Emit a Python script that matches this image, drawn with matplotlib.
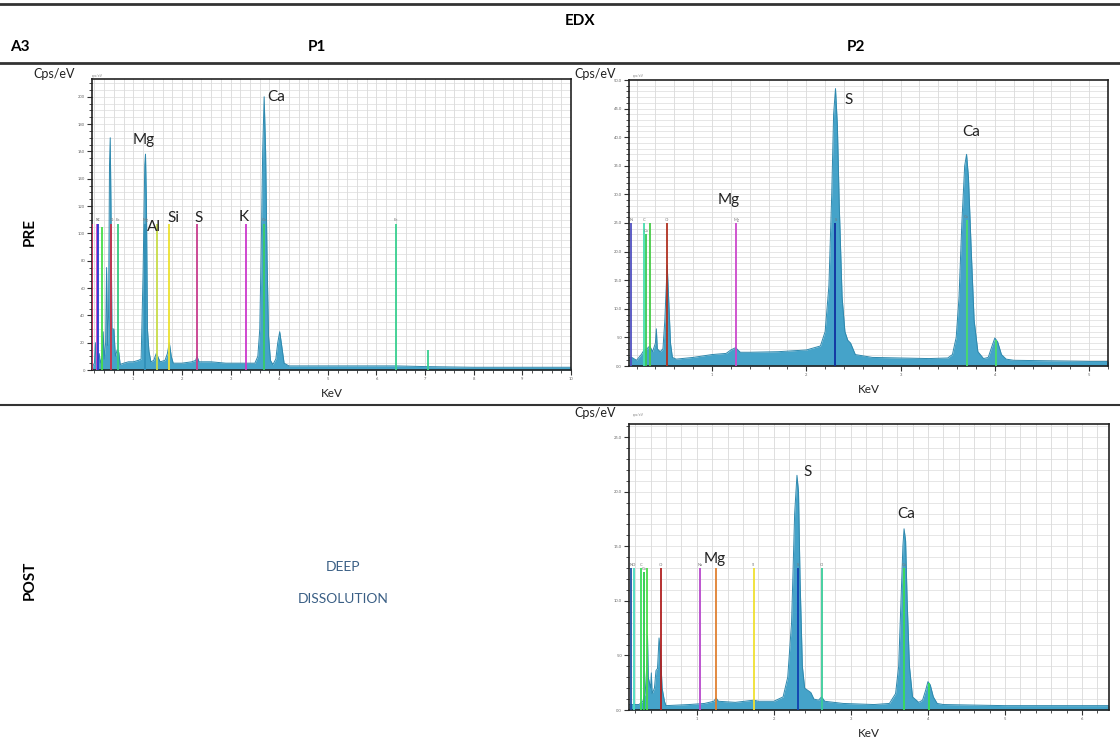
import numpy as np
import matplotlib
matplotlib.use('Agg')
import matplotlib.pyplot as plt
from matplotlib.lines import Line2D
from matplotlib.ticker import MultipleLocator, FormatStrFormatter

plt.rcParams['font.family'] = ['Lato', 'DejaVu Sans']

# ---------------- data ----------------
# P1 / PRE spectrum (keV, cps/eV)
p1_kev = [0.15, 0.17, 0.20, 0.22, 0.24, 0.27, 0.30, 0.32, 0.36, 0.38, 0.40, 0.43, 0.45, 0.47,
          0.49, 0.51, 0.525, 0.54, 0.56, 0.60, 0.63, 0.67, 0.70, 0.73, 0.80, 0.90, 1.00, 1.10,
          1.16, 1.20, 1.235, 1.25, 1.27, 1.29, 1.32, 1.36, 1.42, 1.47, 1.50, 1.55, 1.65, 1.70,
          1.74, 1.78, 1.82, 2.0, 2.2, 2.28, 2.31, 2.35, 2.6, 2.9, 3.2, 3.4, 3.5, 3.56, 3.60,
          3.63, 3.66, 3.69, 3.72, 3.75, 3.78, 3.82, 3.87, 3.93, 3.97, 4.01, 4.05, 4.10, 4.2,
          5.0, 6.0, 6.4, 7.0, 8.0, 9.0, 10.0]
p1_cps = [0, 3, 5, 20, 4, 6, 12, 5, 10, 28, 8, 20, 75, 18,
          40, 150, 170, 120, 30, 30, 10, 15, 13, 4, 5, 6, 6, 7,
          8, 70, 150, 158, 120, 30, 14, 6, 7, 12, 10, 6, 7, 12,
          20, 10, 5, 5, 6, 7, 10, 6, 6, 5, 5, 5, 5, 10, 30,
          90, 160, 200, 160, 80, 25, 7, 4, 8, 20, 28, 18, 5, 3,
          3, 3, 3, 2.5, 2, 2, 2]
p1_line_kev = [0.15, 0.26, 0.28, 0.35, 0.55, 0.69, 1.25, 1.49, 1.74, 2.31, 3.31, 3.69, 6.40, 7.06]
p1_line_top = [107, 107, 107, 105, 107, 107, 107, 107, 107, 107, 107, 107, 107, 15]
p1_line_tag = ['', 'N', 'C', '', 'O', 'Fe', 'Mg', '', '', '', '', 'Ca', 'Fe', '']
p1_names = ['Ca', 'Mg', 'Al', 'Si', 'S', 'K']
p1_name_kev = [3.76, 0.98, 1.29, 1.70, 2.26, 3.16]
p1_name_cps = [200, 168, 105, 111, 111, 112]

# P2 / PRE spectrum
p2_kev = [0.12, 0.15, 0.20, 0.25, 0.28, 0.31, 0.34, 0.37, 0.40, 0.41, 0.42, 0.45, 0.48, 0.50,
          0.51, 0.525, 0.54, 0.56, 0.58, 0.62, 0.80, 1.0, 1.15, 1.20, 1.25, 1.30, 1.40, 1.70,
          2.0, 2.15, 2.20, 2.24, 2.27, 2.29, 2.31, 2.33, 2.35, 2.38, 2.41, 2.44, 2.47, 2.52,
          2.7, 3.0, 3.3, 3.5, 3.55, 3.59, 3.62, 3.65, 3.68, 3.70, 3.72, 3.75, 3.78, 3.82,
          3.88, 3.93, 3.97, 4.0, 4.03, 4.07, 4.12, 4.2, 5.0, 5.25]
p2_cps = [1.5, 1.5, 1, 2, 2.8, 3, 3.5, 2.5, 4, 6.5, 3, 2.5, 3, 8,
          12, 17.6, 12, 4, 1.5, 1.2, 1.5, 2, 2.2, 2.8, 3.2, 2.4, 2.4, 2.5,
          2.8, 3.5, 6, 14, 30, 44, 48.5, 42, 28, 12, 6, 4.5, 4, 2,
          1.5, 1.4, 1.3, 1.4, 2, 5, 12, 25, 35, 37, 33, 20, 8, 2.5,
          1.3, 1.5, 3.5, 4.9, 4.2, 2, 1.2, 1, 0.8, 0.8]
p2_line_kev = [0.145, 0.28, 0.30, 0.34, 0.52, 1.26, 2.31, 3.70, 4.01]
p2_line_top = [25, 25, 23, 25, 25, 25, 25, 25.5, 4.5]
p2_line_tag = ['N', 'C', 'Ca', '', 'O', 'Mg', 'S', 'Ca', '']
p2_names = ['S', 'Ca', 'Mg']
p2_name_kev = [2.41, 3.65, 1.06]
p2_name_cps = [46.5, 40.9, 29]

# P2 / POST spectrum
p3_kev = [0.12, 0.18, 0.25, 0.30, 0.33, 0.35, 0.36, 0.37, 0.40, 0.41, 0.42, 0.45, 0.47, 0.49,
          0.51, 0.53, 0.55, 0.58, 0.60, 0.9, 1.1, 1.22, 1.25, 1.28, 1.5, 1.74, 1.8, 2.0,
          2.12, 2.18, 2.23, 2.27, 2.30, 2.32, 2.34, 2.37, 2.40, 2.44, 2.48, 2.52, 2.58, 2.62,
          2.66, 2.9, 3.3, 3.5, 3.58, 3.62, 3.65, 3.675, 3.69, 3.71, 3.73, 3.76, 3.80, 3.88,
          3.93, 3.97, 4.0, 4.03, 4.07, 4.12, 4.2, 5.0, 6.35]
p3_cps = [0.5, 0.5, 0.5, 0.8, 1.5, 4, 6.8, 3, 2, 3.4, 1.5, 2, 3.6, 3.8,
          6.6, 5, 2, 0.8, 0.4, 0.5, 0.6, 0.8, 1.1, 0.8, 0.7, 0.9, 0.8, 0.8,
          1.2, 3, 8, 18, 21.5, 20, 12, 4, 2, 1.8, 1.6, 1, 0.9, 1.2,
          0.8, 0.6, 0.5, 0.6, 1.5, 4, 10, 15, 16.6, 15.5, 10, 4, 1.2, 0.7,
          0.9, 1.8, 2.6, 2.3, 1.2, 0.6, 0.5, 0.4, 0.4]
p3_line_kev = [0.15, 0.18, 0.28, 0.31, 0.35, 0.53, 1.04, 1.25, 1.74, 2.31, 2.62, 3.69, 4.01]
p3_line_top = [13, 13, 13, 12.6, 13, 13, 13, 13, 13, 13, 13, 13, 2.5]
p3_line_tag = ['N', 'O', 'C', 'Ca', '', 'O', 'Na', '', 'Si', 'S', 'Cl', 'Ca', '']
p3_names = ['S', 'Ca', 'Mg']
p3_name_kev = [2.38, 3.60, 1.09]
p3_name_cps = [21.8, 18.0, 13.8]

# marker line colours
p1_line_col = ['#c8305a', '#d048c8', '#2838d0', '#48dd48', '#c83048', '#38cc80', '#3090b8',
               '#c8dc48', '#ece030', '#c83c8c', '#cc38cc', '#38cc68', '#38d090', '#38d090']
p2_line_col = ['#5050c0', '#48ddb0', '#38cc58', '#48cc48', '#b03020', '#cc48cc', '#1030a0',
               '#48dd68', '#48dd68']
p3_line_col = ['#2050a0', '#48ddc0', '#38dd58', '#28cc48', '#48dd48', '#b02020', '#b848cc',
               '#e08030', '#f0e030', '#1040b0', '#38cc98', '#38dd58', '#38dd58']

FILL = '#45a3c9'
EDGE = '#2e88ad'


def spectrum(rect, kev, cps, lk, lt, lc, ltag, names, nk, nc, xlim, ylim, ymaj, ymin, ygrid, yfmt):
    ax = fig.add_axes(rect)
    ax.set_xlim(*xlim)
    ax.set_ylim(*ylim)
    # fine grid
    ax.xaxis.set_minor_locator(MultipleLocator(0.2))
    ax.xaxis.set_major_locator(MultipleLocator(1))
    ax.yaxis.set_major_locator(MultipleLocator(ymaj))
    ax.yaxis.set_minor_locator(MultipleLocator(ymin))
    for g in np.arange(0, xlim[1] + 0.01, 0.2):
        ax.axvline(g, color='#d9d9d9', lw=0.6, zorder=0)
    for g in np.arange(0, ylim[1], ygrid):
        ax.axhline(g, color='#dcdcdc', lw=0.5, zorder=0)
    ax.fill_between(kev, cps, color=FILL, lw=0, zorder=2)
    ax.plot(kev, cps, color=EDGE, lw=0.7, zorder=2)
    for k, t, c, tag in zip(lk, lt, lc, ltag):
        ax.vlines(k, 0, t, color=c, lw=1.3, zorder=3)
        if tag:
            ax.text(k, t * 1.01, tag, fontsize=3, color='#777777', ha='center', va='bottom', zorder=4)
    for n, k, c in zip(names, nk, nc):
        ax.text(k, c, n, fontsize=11, ha='left', va='center', color='#222222', zorder=5)
    ax.yaxis.set_major_formatter(FormatStrFormatter(yfmt))
    ax.tick_params(which='both', direction='out', labelsize=3, color='#333333', labelcolor='#666666')
    ax.tick_params(which='major', length=3.5, width=0.8, pad=1.5)
    ax.tick_params(which='minor', length=2, width=0.6)
    for s in ax.spines.values():
        s.set_color('#222222')
        s.set_linewidth(1.2)
    ax.set_xlabel('KeV', fontsize=8.5, labelpad=5, color='#222222')
    return ax


fig = plt.figure(figsize=(11.2, 7.4), dpi=100)
W, H = 1120.0, 740.0


def box(l, t, r, b):
    return [l / W, 1 - b / H, (r - l) / W, (b - t) / H]


spectrum(box(92, 79, 571, 370), p1_kev, p1_cps, p1_line_kev, p1_line_top, p1_line_col, p1_line_tag,
         p1_names, p1_name_kev, p1_name_cps, (0.15, 10), (0, 213), 20, 5, 5, '%d')
spectrum(box(629, 80, 1108, 366), p2_kev, p2_cps, p2_line_kev, p2_line_top, p2_line_col, p2_line_tag,
         p2_names, p2_name_kev, p2_name_cps, (0.12, 5.2), (0, 50), 5, 1, 1, '%.1f')
spectrum(box(629, 424, 1109, 710), p3_kev, p3_cps, p3_line_kev, p3_line_top, p3_line_col, p3_line_tag,
         p3_names, p3_name_kev, p3_name_cps, (0.12, 6.35), (0, 26.2), 5, 1, 1, '%.1f')

# table rules
for y, lw in [(4, 2.0), (63, 2.0), (405, 1.5)]:
    fig.add_artist(Line2D([0, 1], [1 - y / H, 1 - y / H], color='#333333', lw=lw))

# header and row labels
fig.text(580 / W, 1 - 21 / H, 'EDX', fontsize=11, fontweight='bold', ha='center', va='center')
fig.text(10 / W, 1 - 47 / H, 'A3', fontsize=11, fontweight='bold', ha='left', va='center')
fig.text(317 / W, 1 - 47 / H, 'P1', fontsize=11, fontweight='bold', ha='center', va='center')
fig.text(856 / W, 1 - 47 / H, 'P2', fontsize=11, fontweight='bold', ha='center', va='center')
fig.text(30 / W, 1 - 232 / H, 'PRE', fontsize=11, fontweight='bold', rotation=90, ha='center', va='center')
fig.text(30 / W, 1 - 580 / H, 'POST', fontsize=11, fontweight='bold', rotation=90, ha='center', va='center')
fig.text(343 / W, 1 - 567 / H, 'DEEP', fontsize=10, color='#3a5f85', ha='center', va='center')
fig.text(343 / W, 1 - 599 / H, 'DISSOLUTION', fontsize=10, color='#3a5f85', ha='center', va='center')

# axis unit labels
for x, y in [(33, 74), (574, 74), (574, 413)]:
    fig.text(x / W, 1 - y / H, 'Cps/eV', fontsize=9, ha='left', va='center', color='#222222')
    fig.text((x + 59) / W, 1 - (y + 2) / H, 'cps/eV', fontsize=2.5, ha='left', va='center', color='#888888')

fig.savefig('out.png', dpi=100)
